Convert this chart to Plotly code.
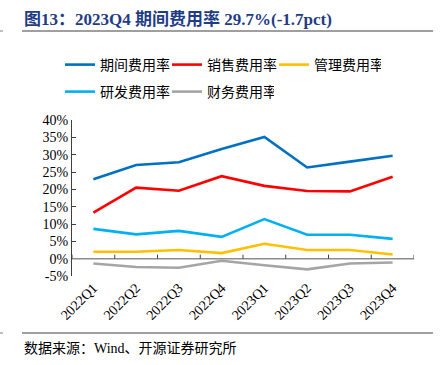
import plotly.graph_objects as go

quarters = ["2022Q1", "2022Q2", "2022Q3", "2022Q4", "2023Q1", "2023Q2", "2023Q3", "2023Q4"]
period_rate = [22.9, 27.0, 27.8, 31.6, 35.1, 26.3, 28.0, 29.7]
sales_rate = [13.3, 20.5, 19.6, 23.8, 21.0, 19.5, 19.4, 23.6]
admin_rate = [2.0, 2.0, 2.5, 1.6, 4.3, 2.5, 2.5, 1.2]
rd_rate = [8.6, 7.0, 8.0, 6.3, 11.4, 6.9, 6.9, 5.7]
fin_rate = [-1.4, -2.4, -2.6, -0.6, -1.9, -3.1, -1.4, -1.1]

series_names = ["期间费用率", "销售费用率", "管理费用率", "研发费用率", "财务费用率"]
series_colors = ["#0070C0", "#FF0000", "#FFC000", "#00B0F0", "#A5A5A5"]
series_values = [period_rate, sales_rate, admin_rate, rd_rate, fin_rate]
series_legend = ["legend", "legend", "legend", "legend2", "legend2"]

ytick_vals = [-5, 0, 5, 10, 15, 20, 25, 30, 35, 40]
ytick_text = ["-5%", "0%", "5%", "10%", "15%", "20%", "25%", "30%", "35%", "40%"]

title_text = "图13：2023Q4 期间费用率 29.7%(-1.7pct)"
source_text = "数据来源：Wind、开源证券研究所"

W, H = 444, 365
L, R, T, B = 72, 30, 120, 89
PW, PH = W - L - R, H - T - B


def px_x(x):
    return (x - L) / PW


def px_y(y):
    return (H - B - y) / PH


fig = go.Figure()
for name, color, vals, lg in zip(series_names, series_colors, series_values, series_legend):
    fig.add_trace(go.Scatter(x=quarters, y=vals, name=name, mode="lines", legend=lg,
                             line=dict(color=color, width=2.6)))

serif = "Liberation Serif, Times New Roman, Noto Sans CJK SC"
cjk = "Liberation Serif, Noto Sans CJK SC"

shapes = []
# x axis line at y=0
shapes.append(dict(type="line", xref="x", yref="y", x0=-0.5, x1=7.5, y0=0, y1=0,
                   line=dict(color="#8C8C8C", width=1.5)))
for i in range(9):
    shapes.append(dict(type="line", xref="x", yref="y", ysizemode="pixel", yanchor=0,
                       x0=i - 0.5, x1=i - 0.5, y0=0, y1=4,
                       line=dict(color="#404040", width=1)))
# title / source rules
for yy in (31, 333):
    shapes.append(dict(type="line", xref="paper", yref="paper",
                       x0=px_x(22), x1=px_x(433), y0=px_y(yy), y1=px_y(yy),
                       line=dict(color="#7F7F7F", width=1.5)))
    shapes.append(dict(type="line", xref="paper", yref="paper",
                       x0=px_x(0), x1=px_x(3), y0=px_y(yy), y1=px_y(yy),
                       line=dict(color="#7F7F7F", width=1)))

annotations = [
    dict(text="<b>" + title_text + "</b>", xref="paper", yref="paper",
         x=px_x(22), y=px_y(19), xanchor="left", yanchor="middle", showarrow=False,
         font=dict(family=cjk, size=17, color="#1F3D86")),
    dict(text=source_text, xref="paper", yref="paper",
         x=px_x(22), y=px_y(348), xanchor="left", yanchor="middle", showarrow=False,
         font=dict(family=cjk, size=14, color="#000000")),
]

legend_common = dict(orientation="h", xref="container", yref="container",
                     xanchor="left", yanchor="middle",
                     entrywidth=62, entrywidthmode="pixels",
                     font=dict(family=cjk, size=14, color="#000000"),
                     tracegroupgap=0, itemwidth=30, bgcolor="rgba(0,0,0,0)")

fig.update_layout(
    width=W, height=H,
    margin=dict(l=L, r=R, t=T, b=B, autoexpand=False),
    paper_bgcolor="white", plot_bgcolor="white",
    showlegend=True,
    legend=dict(x=60 / W, y=1 - 65 / H, **legend_common),
    legend2=dict(x=60 / W, y=1 - 92 / H, **legend_common),
    xaxis=dict(type="category", range=[-0.5, 7.5], showline=False, showgrid=False,
               zeroline=False, ticks="", tickangle=-45,
               tickfont=dict(family=serif, size=14, color="#000000")),
    yaxis=dict(range=[-5, 40], tickvals=ytick_vals, ticktext=ytick_text,
               showline=True, linecolor="#404040", linewidth=1,
               ticks="inside", ticklen=4, tickcolor="#404040",
               showgrid=False, zeroline=False,
               tickfont=dict(family=serif, size=14, color="#000000")),
    shapes=shapes,
    annotations=annotations,
)

fig.write_html("out.html", config={"displayModeBar": False},
               post_script="document.body.style.margin='0';document.body.style.overflow='hidden';")
